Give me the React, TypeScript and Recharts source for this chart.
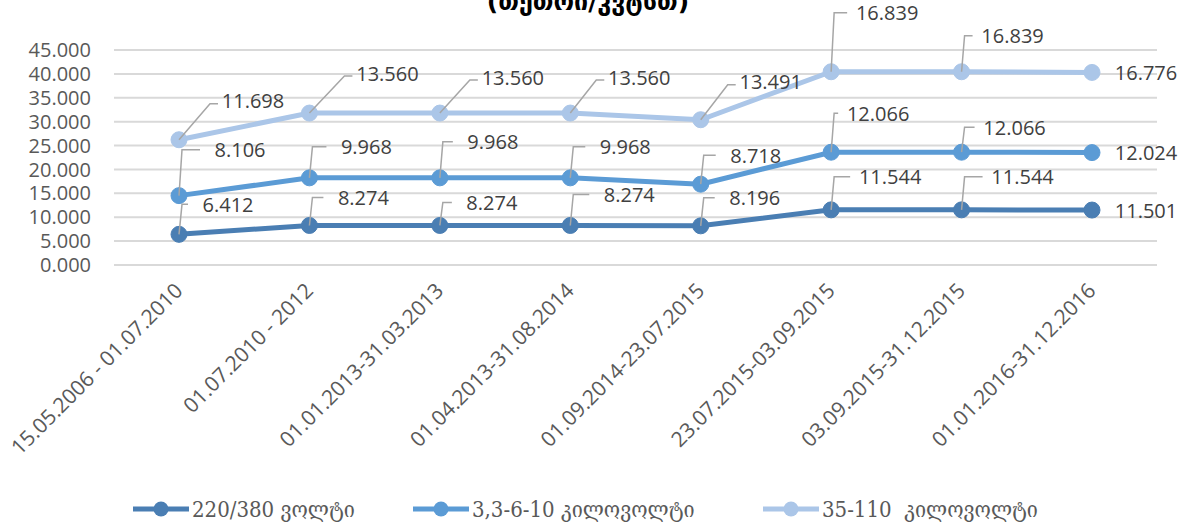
import { CartesianGrid, LabelList, Line, LineChart, XAxis, YAxis } from 'recharts'

const periods = [
  '15.05.2006 - 01.07.2010',
  '01.07.2010 - 2012',
  '01.01.2013-31.03.2013',
  '01.04.2013-31.08.2014',
  '01.09.2014-23.07.2015',
  '23.07.2015-03.09.2015',
  '03.09.2015-31.12.2015',
  '01.01.2016-31.12.2016',
]

const lowVoltage = [6.412, 8.274, 8.274, 8.274, 8.196, 11.544, 11.544, 11.501]
const midVoltage = [8.106, 9.968, 9.968, 9.968, 8.718, 12.066, 12.066, 12.024]
const highVoltage = [11.698, 13.56, 13.56, 13.56, 13.491, 16.839, 16.839, 16.776]

const yTicks = [0, 5, 10, 15, 20, 25, 30, 35, 40, 45]

const series = [
  { key: 'low', name: '220/380 ვოლტი', color: '#4a7eb3', values: lowVoltage },
  { key: 'mid', name: '3,3-6-10 კილოვოლტი', color: '#5b9bd5', values: midVoltage },
  { key: 'high', name: '35-110  კილოვოლტი', color: '#abc6e8', values: highVoltage },
]

// where each data label sits (text centre relative to its point), like excel placed them
const labelOffsets: Record<string, [number, number][]> = {
  low: [[49, -30], [54, -28], [52, -23], [59, -31], [54, -28], [59, -33], [61, -33], [54, 0]],
  mid: [[61, -46], [57, -31], [53, -36], [55, -31], [55, -29], [47, -39], [53, -25], [54, 0]],
  high: [[74, -39], [78, -40], [73, -36], [69, -36], [70, -38], [56, -59], [51, -36], [54, 0]],
}

// legend slot widths (excel spreads the entries out)
const legendSlots = [280, 350, 300]

// stacked: each line sits on top of the ones below
const chartData = periods.map((period, i) => ({
  period,
  low: lowVoltage[i],
  mid: lowVoltage[i] + midVoltage[i],
  high: lowVoltage[i] + midVoltage[i] + highVoltage[i],
}))

const fmt = (v: number) => v.toFixed(3)

function makeLabel(key: string, values: number[]) {
  return (props: any) => {
    const { x, y, index } = props
    const [dx, dy] = labelOffsets[key][index]
    const cx = x + dx
    const cy = y + dy
    const left = cx - 31
    const last = index === values.length - 1
    let leader = null
    if (!last) {
      const pts =
        left - x < 35
          ? `${x},${y} ${x + 3},${cy} ${left - 9},${cy}`
          : `${x},${y} ${left - 12},${cy + 3} ${left - 4},${cy + 3}`
      leader = <polyline points={pts} fill="none" stroke="#a6a6a6" strokeWidth={1.5} />
    }
    return (
      <g>
        {leader}
        <text x={cx} y={cy} textAnchor="middle" dominantBaseline="central" fontSize={20} fill="#404040" fontFamily="'Open Sans', sans-serif">
          {fmt(values[index])}
        </text>
      </g>
    )
  }
}

function PeriodTick(props: any) {
  const { x, y, payload } = props
  return (
    <text
      x={0}
      y={0}
      transform={`translate(${x + 5},${y + 19}) rotate(-45)`}
      textAnchor="end"
      fontSize={21}
      fill="#595959"
      fontFamily="'Open Sans', sans-serif"
    >
      {payload.value}
    </text>
  )
}

function LegendRow() {
  return (
    <div
      style={{
        position: 'absolute',
        left: 133,
        top: 494,
        display: 'flex',
        fontFamily: "'DejaVu Serif Condensed', 'DejaVu Serif', serif",
        fontSize: 22,
        color: '#595959',
      }}
    >
      {series.map((s, i) => (
        <div key={s.key} style={{ width: legendSlots[i], display: 'flex', alignItems: 'center', whiteSpace: 'pre' }}>
          <svg width={56} height={30}>
            <line x1={0} y1={15} x2={56} y2={15} stroke={s.color} strokeWidth={5} strokeLinecap="round" />
            <circle cx={28} cy={15} r={7.5} fill={s.color} />
          </svg>
          <span style={{ marginLeft: 3 }}>{s.name}</span>
        </div>
      ))}
    </div>
  )
}

export default function App() {
  return (
    <div style={{ position: 'absolute', left: 0, top: 0, width: 1196, height: 525, background: '#fff', overflow: 'hidden' }}>
      <div
        style={{
          position: 'absolute',
          top: -13,
          left: 0,
          width: 1176,
          textAlign: 'center',
          fontFamily: "'DejaVu Sans', sans-serif",
          fontWeight: 'bold',
          fontSize: 25,
          lineHeight: '30px',
          color: '#000',
        }}
      >
        (თეთრი/კვტსთ)
      </div>
      <LineChart width={1196} height={525} data={chartData} margin={{ top: 50, right: 39, left: 0, bottom: 60 }}>
        <CartesianGrid vertical={false} stroke="#d9d9d9" strokeWidth={2} />
        <XAxis
          dataKey="period"
          padding={{ left: 65, right: 65 }}
          height={200}
          tickLine={false}
          axisLine={{ stroke: '#d9d9d9', strokeWidth: 2 }}
          interval={0}
          tick={<PeriodTick />}
        />
        <YAxis
          width={114}
          domain={[0, 45]}
          ticks={yTicks}
          interval={0}
          axisLine={false}
          tickLine={false}
          tickMargin={17}
          tickFormatter={fmt}
          tick={{ fontSize: 20, fill: '#595959', fontFamily: "'Open Sans', sans-serif" }}
        />
        {series.map((s) => (
          <Line
            key={s.key}
            dataKey={s.key}
            name={s.name}
            type="linear"
            stroke={s.color}
            strokeWidth={5}
            dot={{ r: 8, fill: s.color, stroke: s.color, strokeWidth: 1 }}
            activeDot={false}
            isAnimationActive={false}
          >
            <LabelList dataKey={s.key} content={makeLabel(s.key, s.values)} />
          </Line>
        ))}
      </LineChart>
      <LegendRow />
    </div>
  )
}
